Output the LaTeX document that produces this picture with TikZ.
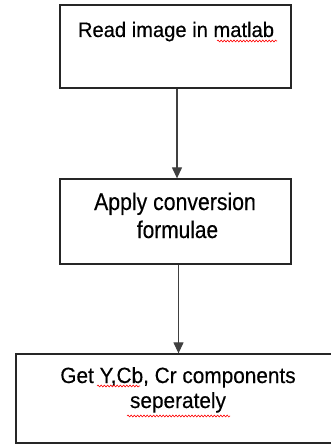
\documentclass[tikz,border=0pt]{standalone}
\usepackage{fontspec}
\usepackage{graphicx}
\setmainfont{Liberation Sans}
\newfontfamily\txtfont{Liberation Sans}[FakeBold=0.35]
\usetikzlibrary{decorations.pathmorphing,arrows.meta}
\newcommand\hsq[2]{\scalebox{#1}[1]{#2}}
\tikzset{
  boxst/.style={draw=black!85, line width=1.3pt, fill=white, inner sep=0pt},
  lbl/.style={anchor=base, inner sep=0pt, text=black, font=\txtfont},
  arr/.style={draw=black!75, line width=1.2pt, -{Triangle[length=11pt,width=10pt]}},
  spell/.style={draw=red, line width=0.6pt, decorate, decoration={snake, amplitude=0.9pt, segment length=3.2pt}}
}
\begin{document}
\begin{tikzpicture}[x=1pt,y=-1pt]
\useasboundingbox (0,0) rectangle (331,444);
\clip (0,0) rectangle (331,444);
% boxes
\node[boxst, minimum width=231pt, minimum height=83pt] (b1) at (175.5,46.5) {};
\node[boxst, minimum width=231pt, minimum height=85pt] (b2) at (175.5,221.5) {};
\node[boxst, minimum width=326pt, minimum height=89pt] (b3) at (179,398.5) {};
% texts
\node[lbl] (t1) at (176,37) {\fontsize{21}{25}\selectfont\hsq{0.96}{Read image in matlab}};
\node[lbl] (t2a) at (175,210) {\fontsize{24}{28}\selectfont\hsq{0.885}{Apply conversion}};
\node[lbl] (t2b) at (177.5,238) {\fontsize{24}{28}\selectfont\hsq{0.87}{formulae}};
\node[lbl] (t3a) at (178,383) {\fontsize{22}{26}\selectfont\hsq{0.945}{Get Y,Cb, Cr components}};
\node[lbl] (t3b) at (178,408) {\fontsize{22}{26}\selectfont\hsq{0.945}{seperately}};
% spell-check underlines
\coordinate (s1a) at (217,41); \coordinate (s1b) at (277,41);
\coordinate (s2a) at (97,386); \coordinate (s2b) at (140,386);
\coordinate (s3a) at (127,416); \coordinate (s3b) at (230,416);
\draw[spell] (s1a) -- (s1b);
\draw[spell] (s2a) -- (s2b);
\draw[spell] (s3a) -- (s3b);
% connectors
\draw[arr] ([xshift=1.5pt]b1.south) -- ([xshift=1.5pt]b2.north);
\draw[arr] ([xshift=3pt]b2.south) -- ([xshift=3pt]b2.south |- b3.north);
\end{tikzpicture}
\end{document}
